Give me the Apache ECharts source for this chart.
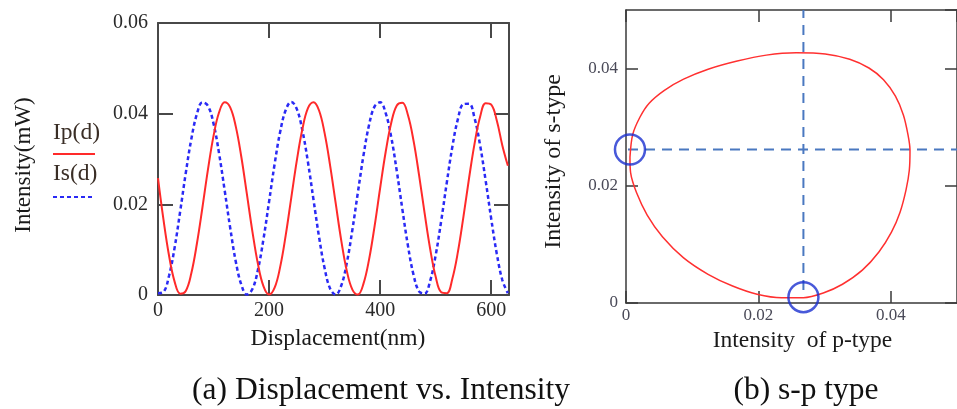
<!DOCTYPE html>
<html>
<head>
<meta charset="utf-8">
<script src="https://cdn.jsdelivr.net/npm/echarts@6/dist/echarts.min.js"></script>
<style>
html,body{margin:0;padding:0;background:#fff;}
#chart{width:957px;height:409px;}
</style>
</head>
<body>
<div id="chart"></div>
<script>
// ---- Panel (a): displacement vs intensity ----
const displacementNm = [0,10,20,30,40,50,60,70,80,90,100,110,120,130,140,150,160,170,180,190,200,210,220,230,240,250,260,270,280,290,300,310,320,330,340,350,360,370,380,390,400,410,420,430,440,450,460,470,480,490,500,510,520,530,540,550,560,570,580,590,600,610,620,630];
const ipValues = [0.0258,0.0165,0.0086,0.0029,0.0003,0.0009,0.0048,0.0113,0.0193,0.0277,0.0351,0.0403,0.0425,0.0414,0.0372,0.0305,0.0223,0.0140,0.0068,0.0019,0.0001,0.0016,0.0062,0.0132,0.0215,0.0297,0.0366,0.0412,0.0425,0.0407,0.0357,0.0285,0.0202,0.0120,0.0053,0.0012,0.0001,0.0025,0.0078,0.0152,0.0236,0.0316,0.0380,0.0418,0.0424,0.0397,0.0341,0.0265,0.0181,0.0102,0.0040,0.0006,0.0004,0.0036,0.0095,0.0173,0.0257,0.0334,0.0393,0.0423,0.0420,0.0385,0.0330,0.0285];
const isValues = [0.0004,0.0007,0.0043,0.0105,0.0185,0.0269,0.0344,0.0399,0.0425,0.0417,0.0378,0.0312,0.0231,0.0148,0.0074,0.0023,0.0001,0.0013,0.0056,0.0124,0.0206,0.0289,0.0360,0.0408,0.0426,0.0410,0.0363,0.0293,0.0210,0.0128,0.0059,0.0014,0.0001,0.0021,0.0071,0.0144,0.0227,0.0308,0.0375,0.0416,0.0425,0.0401,0.0348,0.0273,0.0189,0.0109,0.0045,0.0008,0.0003,0.0031,0.0088,0.0164,0.0248,0.0327,0.0388,0.0421,0.0422,0.0390,0.0330,0.0252,0.0168,0.0091,0.0033,0.0004];
const dispTicks = [0,200,400,600];
const intensityTicksA = [0,0.02,0.04,0.06];

// ---- Panel (b): s-p type ----
const loopP = [0.0006,0.0010,0.0021,0.0035,0.0058,0.0087,0.0124,0.0168,0.0212,0.0257,0.0301,0.0338,0.0367,0.0389,0.0407,0.0419,0.0426,0.0429,0.0428,0.0423,0.0414,0.0401,0.0382,0.0357,0.0327,0.0298,0.0268,0.0235,0.0198,0.0161,0.0124,0.0087,0.0055,0.0032,0.0016,0.0007,0.0006];
const loopS = [0.0249,0.0287,0.0317,0.0341,0.0363,0.0382,0.0399,0.0413,0.0423,0.0427,0.0425,0.0416,0.0401,0.0381,0.0353,0.0321,0.0287,0.0261,0.0227,0.0193,0.0155,0.0121,0.0087,0.0056,0.0032,0.0017,0.0009,0.0009,0.0015,0.0029,0.0049,0.0077,0.0113,0.0150,0.0188,0.0222,0.0249];
const crossP = 0.0268;
const crossS = 0.0262;
const circleP = [0.0006, 0.0268];
const circleS = [0.0262, 0.0010];
const intensityTicksB = [0,0.02,0.04];

const FONT = "'Liberation Serif','Times New Roman',serif";
const fmt = v => (Math.abs(v) < 1e-12 ? '0' : v.toFixed(2));

const chart = echarts.init(document.getElementById('chart'), null, {renderer:'canvas'});

const frameA = {show:true, onZero:false, lineStyle:{color:'#484848', width:2}};
const frameB = {show:true, onZero:false, lineStyle:{color:'#3a3a3a', width:1.5}};
const tickA = {show:true, inside:true, length:15, lineStyle:{color:'#484848', width:2}};
const tickB = {show:true, inside:true, length:12, lineStyle:{color:'#3a3a3a', width:1.5}};

const option = {
  animation:false,
  backgroundColor:'#fff',
  grid:[
    {left:158, top:23, width:351, height:272},
    {left:626, top:10, width:339, height:293}
  ],
  xAxis:[
    {gridIndex:0, type:'value', position:'bottom', min:0, max:632, interval:200,
     axisLine:frameA, axisTick:tickA, splitLine:{show:false},
     axisLabel:{showMaxLabel:false, margin:6, fontFamily:FONT, fontSize:20, color:'#2a2a2a'},
     name:'Displacement(nm)', nameLocation:'middle', nameGap:32,
     nameTextStyle:{fontFamily:FONT, fontSize:23.5, color:'#1a1a1a', padding:[0,0,0,9]}},
    {gridIndex:0, type:'value', position:'top', min:0, max:632, interval:200,
     axisLine:frameA, axisTick:tickA, splitLine:{show:false}, axisLabel:{show:false}},
    {gridIndex:1, type:'value', position:'bottom', min:0, max:0.05, interval:0.02,
     axisLine:frameB, axisTick:tickB, splitLine:{show:false},
     axisLabel:{showMaxLabel:false, margin:4, fontFamily:FONT, fontSize:17, color:'#4a4a58', formatter:fmt},
     name:'Intensity  of p-type', nameLocation:'middle', nameGap:26,
     nameTextStyle:{fontFamily:FONT, fontSize:23.5, color:'#1a1a1a', padding:[0,0,0,22]}},
    {gridIndex:1, type:'value', position:'top', min:0, max:0.05, interval:0.02,
     axisLine:frameB, axisTick:tickB, splitLine:{show:false}, axisLabel:{show:false}}
  ],
  yAxis:[
    {gridIndex:0, type:'value', position:'left', min:0, max:0.06, interval:0.02,
     axisLine:frameA, axisTick:tickA, splitLine:{show:false},
     axisLabel:{margin:10, fontFamily:FONT, fontSize:20, color:'#2a2a2a', formatter:fmt},
     name:'Intensity(mW)', nameLocation:'middle', nameGap:123, nameRotate:90,
     nameTextStyle:{fontFamily:FONT, fontSize:23, color:'#1a1a1a', padding:[0,12,0,0]}},
    {gridIndex:0, type:'value', position:'right', min:0, max:0.06, interval:0.02,
     axisLine:frameA, axisTick:tickA, splitLine:{show:false}, axisLabel:{show:false}},
    {gridIndex:1, type:'value', position:'left', min:0, max:0.05, interval:0.02,
     axisLine:frameB, axisTick:tickB, splitLine:{show:false},
     axisLabel:{showMaxLabel:false, margin:8, fontFamily:FONT, fontSize:17, color:'#4a4a58', formatter:fmt},
     name:'Intensity of s-type', nameLocation:'middle', nameGap:60, nameRotate:90,
     nameTextStyle:{fontFamily:FONT, fontSize:24, color:'#1a1a1a', padding:[0,10,0,0]}},
    {gridIndex:1, type:'value', position:'right', min:0, max:0.05, interval:0.02,
     axisLine:frameB, axisTick:tickB, splitLine:{show:false}, axisLabel:{show:false}}
  ],
  series:[
    {name:'Is(d)', type:'line', xAxisIndex:0, yAxisIndex:0, smooth:0.4, showSymbol:false, clip:true,
     data: displacementNm.map((d,i)=>[d, isValues[i]]),
     lineStyle:{color:'#2a2af5', width:2.5, type:[4,3]}, z:3},
    {name:'Ip(d)', type:'line', xAxisIndex:0, yAxisIndex:0, smooth:0.4, showSymbol:false, clip:true,
     data: displacementNm.map((d,i)=>[d, ipValues[i]]),
     lineStyle:{color:'#ff2a2a', width:2}, z:4},
    {name:'crossV', type:'line', xAxisIndex:2, yAxisIndex:2, showSymbol:false,
     data:[[crossP,0.0022],[crossP,0.05]],
     lineStyle:{color:'#4a78c0', width:2, type:[10,7]}, z:2},
    {name:'crossH', type:'line', xAxisIndex:2, yAxisIndex:2, showSymbol:false,
     data:[[0.0003,crossS],[0.05,crossS]],
     lineStyle:{color:'#4a78c0', width:2, type:[10,7]}, z:2},
    {name:'loop', type:'line', xAxisIndex:2, yAxisIndex:2, smooth:0.3, showSymbol:false,
     data: loopP.map((p,i)=>[p, loopS[i]]),
     lineStyle:{color:'#ff3030', width:1.5}, z:4},
    {name:'circles', type:'scatter', xAxisIndex:2, yAxisIndex:2, symbol:'circle', symbolSize:30,
     data: circleP.map((p,i)=>[p, circleS[i]]),
     itemStyle:{color:'rgba(0,0,0,0)', borderColor:'#1a2fd0', borderWidth:2.5}, z:5}
  ],
  graphic:[
    {type:'text', left:53, top:121, style:{text:'Ip(d)', font:'23.5px '+FONT, fill:'#3a2e26'}},
    {type:'line', shape:{x1:53, y1:154, x2:95, y2:154}, style:{stroke:'#ff2a2a', lineWidth:2}},
    {type:'text', left:53, top:162, style:{text:'Is(d)', font:'23.5px '+FONT, fill:'#3a2e26'}},
    {type:'line', shape:{x1:53, y1:197, x2:92, y2:197}, style:{stroke:'#2a2af5', lineWidth:2, lineDash:[4,3]}},
    {type:'text', x:381, y:391, style:{text:'(a) Displacement vs. Intensity', font:'31.5px '+FONT, fill:'#111', align:'center', verticalAlign:'middle'}},
    {type:'text', x:806, y:391, style:{text:'(b) s-p type', font:'31.5px '+FONT, fill:'#111', align:'center', verticalAlign:'middle'}}
  ]
};
chart.setOption(option);
</script>
</body>
</html>
